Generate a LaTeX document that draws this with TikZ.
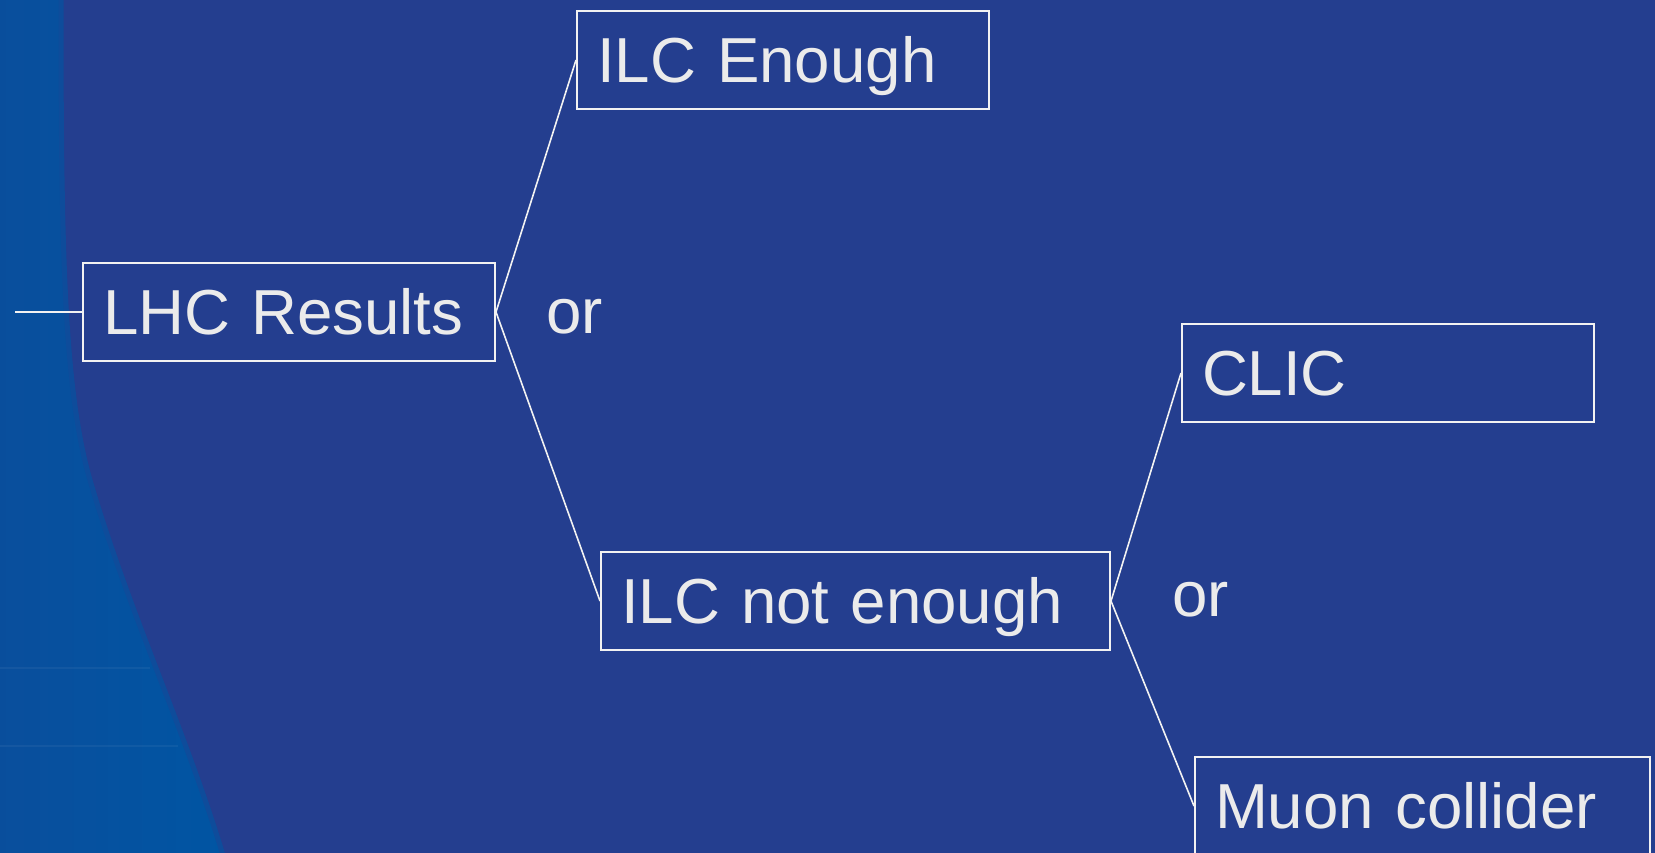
\documentclass[tikz,border=0pt]{standalone}
\usepackage{fontspec}
\setmainfont{Liberation Sans}
\definecolor{bgdark}{HTML}{243E8F}
\definecolor{bglight}{HTML}{0055A3}
\definecolor{bglightL}{HTML}{0A4E9C}
\definecolor{txt}{HTML}{EBEBEB}
\definecolor{edge}{HTML}{F2F2F2}
\tikzset{
  boxnode/.style={draw=edge, line width=1pt, rectangle, anchor=north west,
    minimum height=49pt, inner xsep=10pt, inner ysep=0pt, align=left,
    text=txt, font=\fontsize{31.8}{36}\selectfont, text height=22.7pt, text depth=0pt},
  ornode/.style={text=txt, font=\fontsize{31.8}{36}\selectfont, anchor=base west, inner sep=0pt},
  conn/.style={draw=edge, line width=0.8pt}
}
\begin{document}
\begin{tikzpicture}[x=0.5pt,y=-0.5pt]
\useasboundingbox (0,0) rectangle (1655,852);
\fill[bgdark] (-12,-12) rectangle (1667,864);
% lighter blue left region
\shade[left color=bglightL, right color=bglight]
  (-12,-12) -- (61,-12) -- (61,0) .. controls (61,250) and (64,390) .. (90,480)
  .. controls (128,610) and (185,730) .. (222,852) -- (226,864) -- (-12,864) -- cycle;
\draw[bglight!60!bgdark, line width=2.5pt]
  (61,-12) -- (61,0) .. controls (61,250) and (64,390) .. (90,480)
  .. controls (128,610) and (185,730) .. (222,852) -- (226,864);
\draw[white, opacity=0.05, line width=1pt] (0,668) -- (150,668);
\draw[white, opacity=0.05, line width=1pt] (0,746) -- (178,746);

\node[boxnode, minimum width=206pt, text width=186pt] (lhc) at (82,262) {LHC Results};
\node[boxnode, minimum width=206pt, text width=186pt] (ilce) at (576,10) {ILC Enough};
\node[boxnode, minimum width=206pt, text width=186pt] (clic) at (1181,323) {CLIC};
\node[boxnode, minimum width=254.5pt, text width=234.5pt] (ilcn) at (600,551) {ILC not enough};
\node[boxnode, minimum width=227.5pt, text width=207.5pt] (muon) at (1194,756) {Muon collider};

\node[ornode] (or1) at (546,333) {or};
\node[ornode] (or2) at (1172,616) {or};

\coordinate (start) at (15,312);
\draw[conn] (start) -- (lhc.west);
\draw[conn] (lhc.east) -- (ilce.west);
\draw[conn] (lhc.east) -- (ilcn.west);
\draw[conn] (ilcn.east) -- (clic.west);
\draw[conn] (ilcn.east) -- (muon.west);
\end{tikzpicture}
\end{document}
